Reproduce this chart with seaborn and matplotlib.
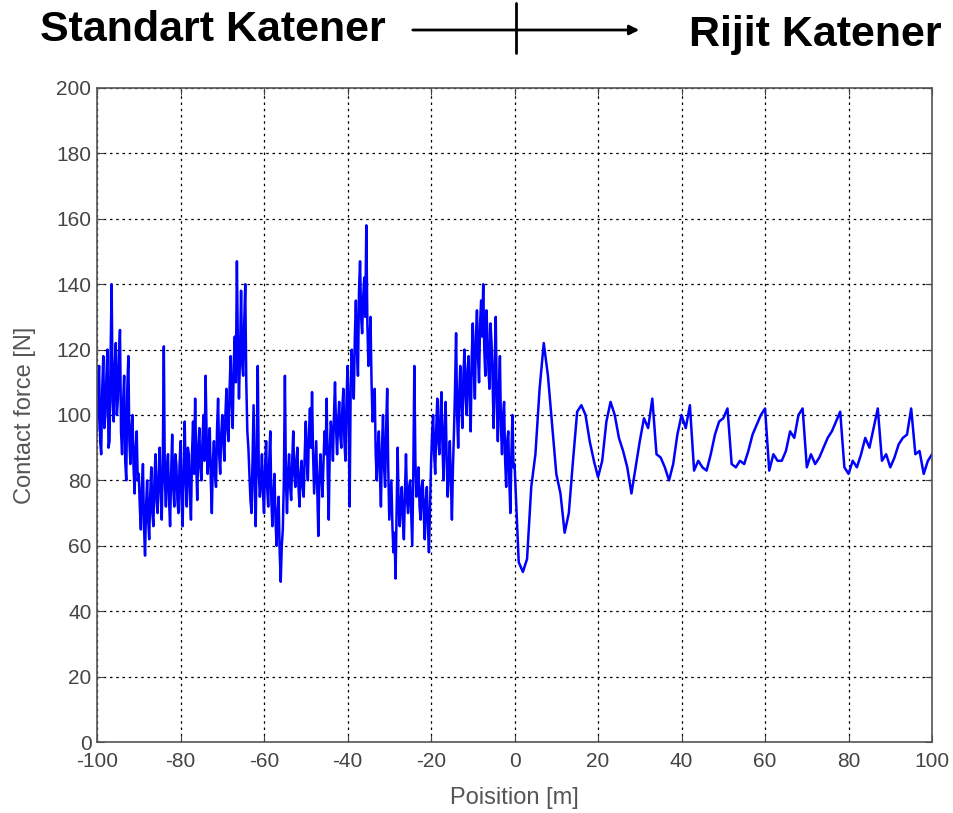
import numpy as np
import pandas as pd
import matplotlib
matplotlib.use("Agg")
import matplotlib.pyplot as plt
import seaborn as sns

# Standard catenary part, every 0.5 m from -100 to -0.5
standard_force = [
    95, 115, 88, 118, 100, 120, 92, 140, 98, 122,
    105, 126, 88, 112, 80, 118, 85, 100, 76, 95,
    82, 65, 85, 57, 80, 62, 84, 66, 88, 70,
    90, 68, 121, 72, 88, 66, 94, 72, 85, 70,
    92, 66, 98, 72, 88, 68, 98, 105, 74, 96,
    80, 100, 112, 82, 96, 70, 92, 78, 105, 82,
    100, 86, 108, 92, 118, 96, 124, 147, 105, 138,
    112, 140, 95, 82, 70, 103, 66, 115, 75, 88,
    70, 92, 72, 95, 66, 82, 60, 75, 49, 65,
    112, 70, 88, 74, 95, 78, 90, 72, 86, 75,
    98, 80, 102, 107, 76, 92, 63, 88, 75, 95,
    105, 68, 98, 86, 110, 88, 104, 90, 108, 86,
    115, 72, 120, 105, 135, 112, 147, 125, 142, 158,
    115, 130, 98, 108, 80, 95, 72, 100, 78, 108,
    68, 80, 58, 50, 90, 66, 78, 62, 88, 70,
    80, 60, 115, 75, 84, 68, 80, 62, 78, 58,
    85, 100, 82, 105, 88, 107, 80, 104, 75, 92,
    68, 95, 125, 90, 115, 96, 120, 100, 118, 95,
    128, 105, 132, 110, 135, 140, 112, 125, 108, 122,
    96, 130, 92, 118, 88, 104, 78, 95, 70, 100,
]

# Standard catenary, in-between samples (every 0.5 m from -99.75 to -0.25)
standard_force_mid = [
    110, 92, 108, 96, 112, 90, 118, 104, 115, 100,
    118, 95, 104, 86, 108, 92, 96, 84, 90, 80,
    72, 78, 66, 72, 68, 76, 70, 80, 74, 82,
    76, 86, 80, 84, 74, 82, 78, 88, 74, 84,
    74, 84, 80, 90, 76, 88, 82, 86, 90, 84,
    92, 86, 94, 90, 80, 86, 82, 96, 88, 94,
    92, 100, 96, 108, 104, 116, 110, 120, 118, 116,
    128, 110, 90, 74, 86, 78, 90, 82, 80, 76,
    84, 78, 86, 74, 76, 68, 70, 58, 60, 80,
    80, 82, 78, 86, 82, 86, 78, 82, 78, 88,
    86, 94, 90, 88, 84, 78, 80, 82, 86, 88,
    82, 90, 94, 100, 96, 98, 94, 102, 92, 104,
    100, 108, 112, 124, 120, 138, 130, 136, 130, 128,
    122, 110, 102, 88, 90, 82, 90, 84, 96, 84,
    74, 66, 64, 70, 72, 74, 68, 76, 74, 78,
    70, 82, 86, 80, 72, 78, 70, 74, 66, 72,
    94, 88, 96, 92, 100, 90, 96, 86, 84, 80,
    84, 108, 100, 106, 104, 112, 106, 114, 104, 118,
    114, 124, 118, 128, 124, 120, 132, 114, 128, 110,
    116, 104, 108, 96, 100, 86, 92, 80, 88, 84,
]

# Rigid catenary part, every 1 m from 0 to 100
rigid_force = [
    85, 55, 52, 56, 78, 88, 108, 122, 112, 97,
    82, 76, 64, 70, 86, 101, 103, 100, 92, 86,
    81, 86, 98, 104, 100, 93, 89, 84, 76, 84,
    92, 99, 96, 105, 88, 87, 84, 80, 85, 94,
    100, 96, 103, 83, 86, 84, 83, 88, 94, 98,
    99, 102, 85, 84, 86, 85, 89, 94, 97, 100,
    102, 83, 88, 86, 86, 89, 95, 93, 100, 102,
    84, 88, 85, 87, 90, 93, 95, 98, 101, 84,
    82, 86, 84, 88, 93, 90, 96, 102, 86, 88,
    84, 87, 91, 93, 94, 102, 88, 89, 82, 86,
    88,
]

x_ticks = [-100, -80, -60, -40, -20, 0, 20, 40, 60, 80, 100]
y_ticks = [0, 20, 40, 60, 80, 100, 120, 140, 160, 180, 200]

standard_pos = np.arange(-100, 0, 0.5)
rigid_pos = np.arange(0, 101, 1.0)
df = pd.DataFrame({
    "position": np.concatenate([standard_pos, standard_pos + 0.25, rigid_pos]),
    "force": standard_force + standard_force_mid + rigid_force,
}).sort_values("position")

sns.set_style("ticks")
plt.rcParams['font.family'] = ['Liberation Sans', 'DejaVu Sans']
plt.rcParams['axes.unicode_minus'] = False

fig = plt.figure(figsize=(9.54, 8.13), dpi=100)
ax = fig.add_axes([0.1017, 0.0873, 0.8753, 0.8045])

sns.lineplot(data=df, x="position", y="force", color="#0000ff", linewidth=1.8,
             estimator=None, sort=False, ax=ax)

ax.set_xlim(-100, 100)
ax.set_ylim(0, 200)
ax.set_xticks(x_ticks)
ax.set_yticks(y_ticks)
ax.grid(True, color="black", linestyle=(0, (2, 3)), linewidth=0.9)
ax.tick_params(direction="in", top=True, right=True, length=5, labelsize=15,
               colors="#444444", labelcolor="#444444")
ax.tick_params(axis="x", pad=7)
ax.tick_params(axis="y", pad=4)
for sp in ax.spines.values():
    sp.set_color("#555555")
    sp.set_linewidth(1.2)
ax.set_xlabel("Poisition [m]", fontsize=17, color="#555555")
ax.set_ylabel("Contact force [N]", fontsize=17, color="#555555")
ax.xaxis.set_label_coords(0.5, -0.068)
ax.yaxis.set_label_coords(-0.073, 0.5)

# header with the two catenary types
fig.text(40 / 954, 1 - 30 / 813, "Standart Katener", fontsize=31, fontweight="bold",
         color="black", va="center", ha="left")
fig.text(942 / 954, 1 - 35 / 813, "Rijit Katener", fontsize=31, fontweight="bold",
         color="black", va="center", ha="right")
ax.annotate("", xy=(642, 783), xytext=(410, 783), xycoords="figure pixels",
            textcoords="figure pixels",
            arrowprops=dict(arrowstyle="-|>", color="black", lw=2, mutation_scale=14))
fig.add_artist(plt.Line2D([516 / 954, 516 / 954], [1 - 3 / 813, 1 - 53 / 813],
                          color="black", lw=2, transform=fig.transFigure))

plt.savefig("out.png", dpi=100)
